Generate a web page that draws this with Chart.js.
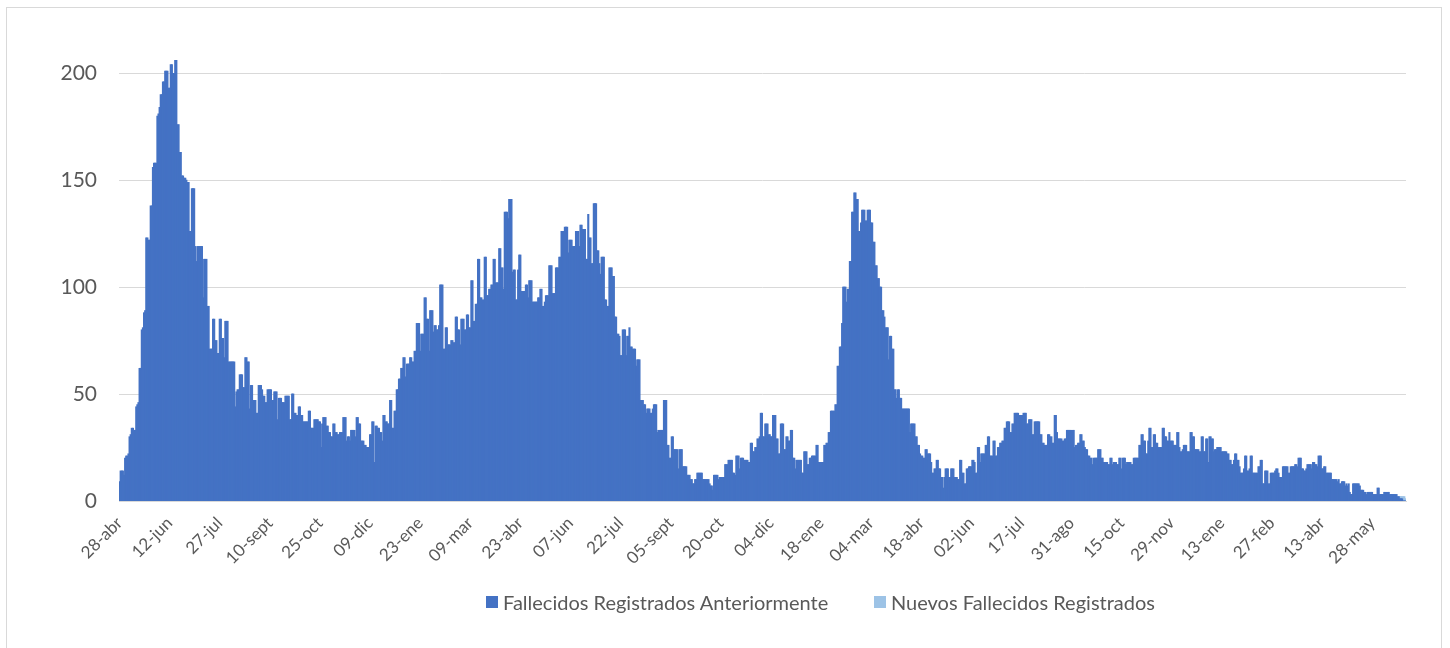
<!DOCTYPE html>
<html lang="es">
<head>
<meta charset="utf-8">
<title>Fallecidos registrados</title>
<script src="https://cdn.jsdelivr.net/npm/chart.js@4.4.1/dist/chart.umd.min.js"></script>
<style>
  body { margin: 0; background: #fff; }
  #wrap { position: relative; width: 1450px; height: 648px; overflow: hidden; background: #fff; }
  #frame { position: absolute; left: 6px; top: 7px; width: 1436px; height: 680px; border: 1px solid #d9d9d9; box-sizing: border-box; }
  #chart-box { position: absolute; left: 0; top: 0; width: 1450px; height: 648px; }
  .legend-item { position: absolute; top: 590px; height: 24px; display: flex; align-items: center;
    font: 20px Lato, 'Liberation Sans', sans-serif; color: #595959; white-space: nowrap; }
  .swatch { width: 12px; height: 12px; margin-right: 5px; }
</style>
</head>
<body>
<div id="wrap">
  <div id="frame"></div>
  <div id="chart-box"><canvas id="chart"></canvas></div>
  <div id="legend"></div>
</div>
<script>
// x-axis tick labels, one every 45 days starting 28-abr-2020
const tickLabels = ['28-abr', '12-jun', '27-jul', '10-sept', '25-oct', '09-dic', '23-ene', '09-mar', '23-abr',
  '07-jun', '22-jul', '05-sept', '20-oct', '04-dic', '18-ene', '04-mar', '18-abr', '02-jun', '17-jul',
  '31-ago', '15-oct', '29-nov', '13-ene', '27-feb', '13-abr', '28-may'];
const labelEvery = 45;
const yTicks = [0, 50, 100, 150, 200];

const seriesNames = ['Fallecidos Registrados Anteriormente', 'Nuevos Fallecidos Registrados'];
const seriesColors = ['#4472C4', '#9DC3E6'];

// daily values (28-abr-2020 .. 31-dic-2020)
const anteriores2020 = [
  9, 14, 14, 14, 12, 20, 21, 21, 22, 30,
  31, 34, 34, 33, 33, 44, 45, 46, 62, 62,
  80, 81, 88, 89, 123, 123, 122, 122, 138, 138,
  156, 158, 158, 158, 180, 181, 184, 190, 190, 196,
  196, 201, 201, 201, 193, 193, 204, 204, 200, 200,
  206, 206, 176, 176, 163, 163, 152, 152, 151, 151,
  150, 149, 149, 126, 126, 146, 146, 146, 119, 112,
  119, 119, 119, 119, 119, 95, 113, 113, 113, 91,
  91, 71, 71, 71, 85, 85, 75, 75, 69, 69,
  85, 85, 76, 76, 67, 84, 84, 84, 65, 65,
  65, 65, 65, 65, 44, 51, 52, 52, 59, 59,
  59, 53, 53, 67, 67, 65, 65, 43, 54, 54,
  47, 47, 47, 41, 41, 54, 54, 54, 52, 49,
  49, 46, 46, 52, 52, 52, 52, 47, 47, 51,
  51, 51, 38, 48, 48, 48, 46, 46, 46, 49,
  49, 49, 49, 38, 38, 50, 50, 41, 41, 40,
  40, 44, 44, 40, 40, 37, 37, 37, 37, 37,
  42, 42, 34, 34, 34, 38, 38, 38, 38, 37,
  37, 25, 36, 39, 39, 39, 35, 35, 32, 32,
  30, 30, 36, 36, 32, 32, 31, 31, 32, 32,
  32, 39, 39, 39, 28, 30, 30, 28, 33, 33,
  33, 33, 30, 39, 39, 36, 36, 28, 28, 28,
  26, 26, 25, 25, 25, 31, 31, 37, 37, 18,
  35, 35, 34, 34, 32, 32, 28, 40, 40, 37,
  37, 36, 36, 47, 47, 34, 34, 42
];

const anteriores2021 = [
  42, 52,
  52, 57, 57, 62, 62, 67, 67, 58, 64, 64,
  64, 67, 67, 65, 65, 70, 70, 83, 83, 83,
  70, 78, 78, 78, 95, 95, 85, 85, 70, 89,
  89, 89, 79, 82, 82, 80, 80, 82, 101, 101,
  101, 71, 71, 81, 81, 73, 73, 73, 75, 75,
  74, 74, 86, 86, 80, 80, 73, 85, 85, 85,
  80, 80, 87, 87, 81, 81, 103, 103, 84, 84,
  92, 92, 113, 113, 95, 95, 94, 94, 114, 114,
  96, 96, 99, 99, 101, 101, 113, 113, 102, 102,
  102, 118, 118, 109, 109, 99, 135, 135, 135, 132,
  141, 141, 141, 107, 108, 108, 94, 94, 108, 115,
  115, 98, 98, 98, 98, 101, 101, 95, 103, 103,
  103, 93, 93, 93, 93, 93, 95, 95, 99, 99,
  91, 91, 93, 96, 96, 96, 110, 110, 110, 97,
  97, 97, 109, 109, 109, 114, 114, 126, 126, 126,
  128, 128, 128, 116, 122, 122, 122, 119, 119, 119,
  126, 126, 126, 119, 129, 129, 127, 127, 127, 113,
  113, 134, 123, 123, 111, 111, 139, 139, 139, 117,
  117, 111, 106, 114, 114, 114, 94, 94, 91, 91,
  109, 109, 109, 105, 105, 86, 86, 78, 78, 77,
  68, 68, 80, 80, 80, 68, 77, 77, 81, 72,
  72, 71, 71, 71, 63, 66, 66, 66, 47, 47,
  47, 45, 45, 41, 43, 43, 43, 41, 41, 43,
  45, 45, 45, 32, 33, 33, 33, 33, 33, 47,
  47, 47, 26, 26, 20, 20, 30, 30, 24, 24,
  24, 24, 15, 24, 24, 24, 16, 16, 16, 16,
  12, 12, 12, 10, 10, 8, 8, 10, 10, 13,
  13, 13, 13, 13, 10, 10, 10, 10, 10, 10,
  8, 7, 7, 5, 12, 12, 12, 12, 10, 11,
  11, 11, 11, 11, 17, 17, 17, 19, 19, 19,
  19, 13, 13, 12, 21, 21, 21, 15, 20, 20,
  20, 19, 19, 19, 19, 18, 18, 27, 27, 23,
  23, 25, 25, 29, 29, 30, 41, 41, 30, 30,
  36, 36, 36, 31, 31, 30, 30, 40, 40, 40,
  29, 29, 22, 22, 36, 36, 36, 24, 24, 30,
  30, 28, 28, 33, 33, 20, 20, 15, 19, 19,
  19, 19, 19
];

const anteriores2022 = [
  13, 13, 23, 23, 23, 17, 17,
  20, 20, 21, 21, 21, 21, 26, 26, 18, 18,
  18, 18, 18, 26, 26, 27, 27, 32, 32, 42,
  42, 42, 42, 45, 45, 63, 63, 72, 72, 83,
  100, 100, 100, 93, 99, 99, 112, 112, 135, 135,
  144, 144, 141, 141, 126, 126, 130, 136, 136, 136,
  131, 131, 136, 136, 136, 130, 130, 121, 121, 110,
  110, 104, 104, 100, 100, 89, 89, 86, 81, 81,
  81, 66, 77, 77, 71, 71, 52, 52, 48, 52,
  52, 48, 48, 43, 43, 43, 43, 43, 43, 43,
  32, 36, 36, 36, 36, 30, 30, 26, 26, 22,
  21, 21, 20, 20, 24, 24, 22, 22, 22, 18,
  13, 13, 15, 15, 19, 19, 15, 15, 11, 11,
  6, 11, 15, 15, 15, 11, 11, 15, 15, 15,
  11, 11, 11, 10, 10, 19, 19, 13, 13, 8,
  8, 15, 15, 16, 16, 16, 19, 19, 18, 13,
  13, 25, 25, 18, 22, 22, 22, 22, 26, 26,
  30, 30, 21, 21, 21, 28, 28, 21, 21, 25,
  25, 27, 27, 28, 28, 34, 34, 37, 37, 37,
  32, 32, 36, 36, 41, 41, 41, 41, 40, 40,
  40, 40, 41, 41, 41, 36, 36, 38, 38, 38,
  31, 31, 37, 37, 37, 37, 37, 31, 31, 27,
  27, 26, 26, 26, 31, 31, 30, 30, 27, 27,
  40, 40, 32, 29, 29, 29, 29, 28, 28, 29,
  29, 33, 33, 33, 33, 33, 33, 33, 25, 26,
  26, 27, 27, 31, 31, 28, 28, 25, 24, 24,
  21, 21, 20, 20, 17, 20, 20, 20, 20, 24,
  24, 24, 20, 20, 18, 18, 18, 18, 17, 17,
  20, 20, 17, 18, 18, 18, 17, 17, 20, 20,
  15, 20, 20, 20, 17, 18, 18, 18, 18, 17,
  17, 20, 20, 20, 20, 20, 26, 26, 31, 31,
  28, 28, 22, 22, 28, 34, 34, 25, 25, 31,
  31, 27, 27, 25, 25, 25, 25, 34, 34, 30,
  30, 28, 28, 32, 28, 28, 28, 26, 26, 26,
  32, 32, 25, 23, 23, 24, 26, 26, 26, 23,
  23, 23, 32, 32, 30, 30, 24, 24, 24, 24,
  23, 23, 30, 30, 23, 23, 29, 29
];

const anteriores2023 = [
  18, 30,
  30, 29, 29, 23, 24, 24, 25, 25, 25, 25,
  23, 23, 23, 23, 23, 22, 22, 19, 19, 17,
  17, 19, 22, 22, 19, 19, 16, 13, 13, 13,
  15, 21, 21, 14, 14, 15, 21, 21, 13, 13,
  13, 13, 13, 16, 16, 19, 19, 8, 8, 14,
  14, 14, 8, 8, 13, 13, 13, 13, 14, 15,
  15, 13, 11, 11, 11, 16, 16, 16, 16, 16,
  13, 13, 16, 16, 16, 16, 17, 17, 16, 20,
  20, 20, 15, 15, 14, 14, 15, 17, 17, 17,
  17, 15, 18, 18, 17, 17, 16, 21, 21, 21,
  15, 15, 16, 16, 13, 13, 13, 13, 13, 10,
  10, 10, 10, 10, 9, 10, 8, 8, 9, 9,
  9, 7, 8, 7, 8, 4, 3, 3, 8, 8,
  8, 8, 8, 8, 7, 5, 5, 5, 4, 4,
  3, 4, 4, 4, 4, 4, 3, 3, 3, 3,
  6, 6, 3, 3, 3, 3, 4, 4, 4, 4,
  4, 3, 3, 3, 3, 3, 3, 3, 2, 2,
  1, 1, 1, 0, 0, 0
];

// the light series only shows on the last few days
const nuevosUltimosDias = [1, 1, 1, 2, 2, 1];

const anteriores = [].concat(anteriores2020, anteriores2021, anteriores2022, anteriores2023);
const firstNuevo = anteriores.length - nuevosUltimosDias.length;
const nuevos = anteriores.map((_, i) => (i >= firstNuevo ? nuevosUltimosDias[i - firstNuevo] : null));
const labels = anteriores.map((_, i) => (i % labelEvery === 0 ? tickLabels[i / labelEvery] : ''));

const textColor = '#595959';
const gridColor = '#d9d9d9';
const fontFamily = "Lato, 'Liberation Sans', sans-serif";

new Chart(document.getElementById('chart'), {
  type: 'bar',
  data: {
    labels: labels,
    datasets: [
      { label: seriesNames[0], data: anteriores, backgroundColor: seriesColors[0], borderWidth: 0, inflateAmount: 0.5 },
      { label: seriesNames[1], data: nuevos, backgroundColor: seriesColors[1], borderWidth: 0, inflateAmount: 0.5 }
    ]
  },
  options: {
    responsive: true,
    maintainAspectRatio: false,
    animation: false,
    events: [],
    layout: { padding: { left: 0, right: 44, top: 52, bottom: 0 } },
    datasets: { bar: { barPercentage: 1, categoryPercentage: 1 } },
    plugins: {
      legend: { display: false },
      tooltip: { enabled: false }
    },
    scales: {
      x: {
        stacked: true,
        grid: { display: false },
        border: { display: true, color: gridColor, width: 1 },
        afterFit: (scale) => { scale.height = 147; },
        ticks: {
          autoSkip: false,
          minRotation: 45,
          maxRotation: 45,
          padding: 4,
          color: textColor,
          font: { family: fontFamily, size: 17 },
          callback: (value, index) => labels[index] || null
        }
      },
      y: {
        stacked: true,
        min: 0,
        max: 210,
        afterFit: (scale) => { scale.width = 119; },
        afterBuildTicks: (scale) => { scale.ticks = yTicks.map(v => ({ value: v })); },
        grid: { color: gridColor, lineWidth: 1, drawTicks: false },
        border: { display: false },
        ticks: {
          padding: 22,
          color: textColor,
          font: { family: fontFamily, size: 21 }
        }
      }
    }
  }
});

// legend drawn as html so it can sit where the original puts it
const legendLeft = [486, 874];
const legendEl = document.getElementById('legend');
seriesNames.forEach((name, i) => {
  const item = document.createElement('div');
  item.className = 'legend-item';
  item.style.left = legendLeft[i] + 'px';
  const swatch = document.createElement('span');
  swatch.className = 'swatch';
  swatch.style.background = seriesColors[i];
  item.appendChild(swatch);
  item.appendChild(document.createTextNode(name));
  legendEl.appendChild(item);
});
</script>
</body>
</html>
